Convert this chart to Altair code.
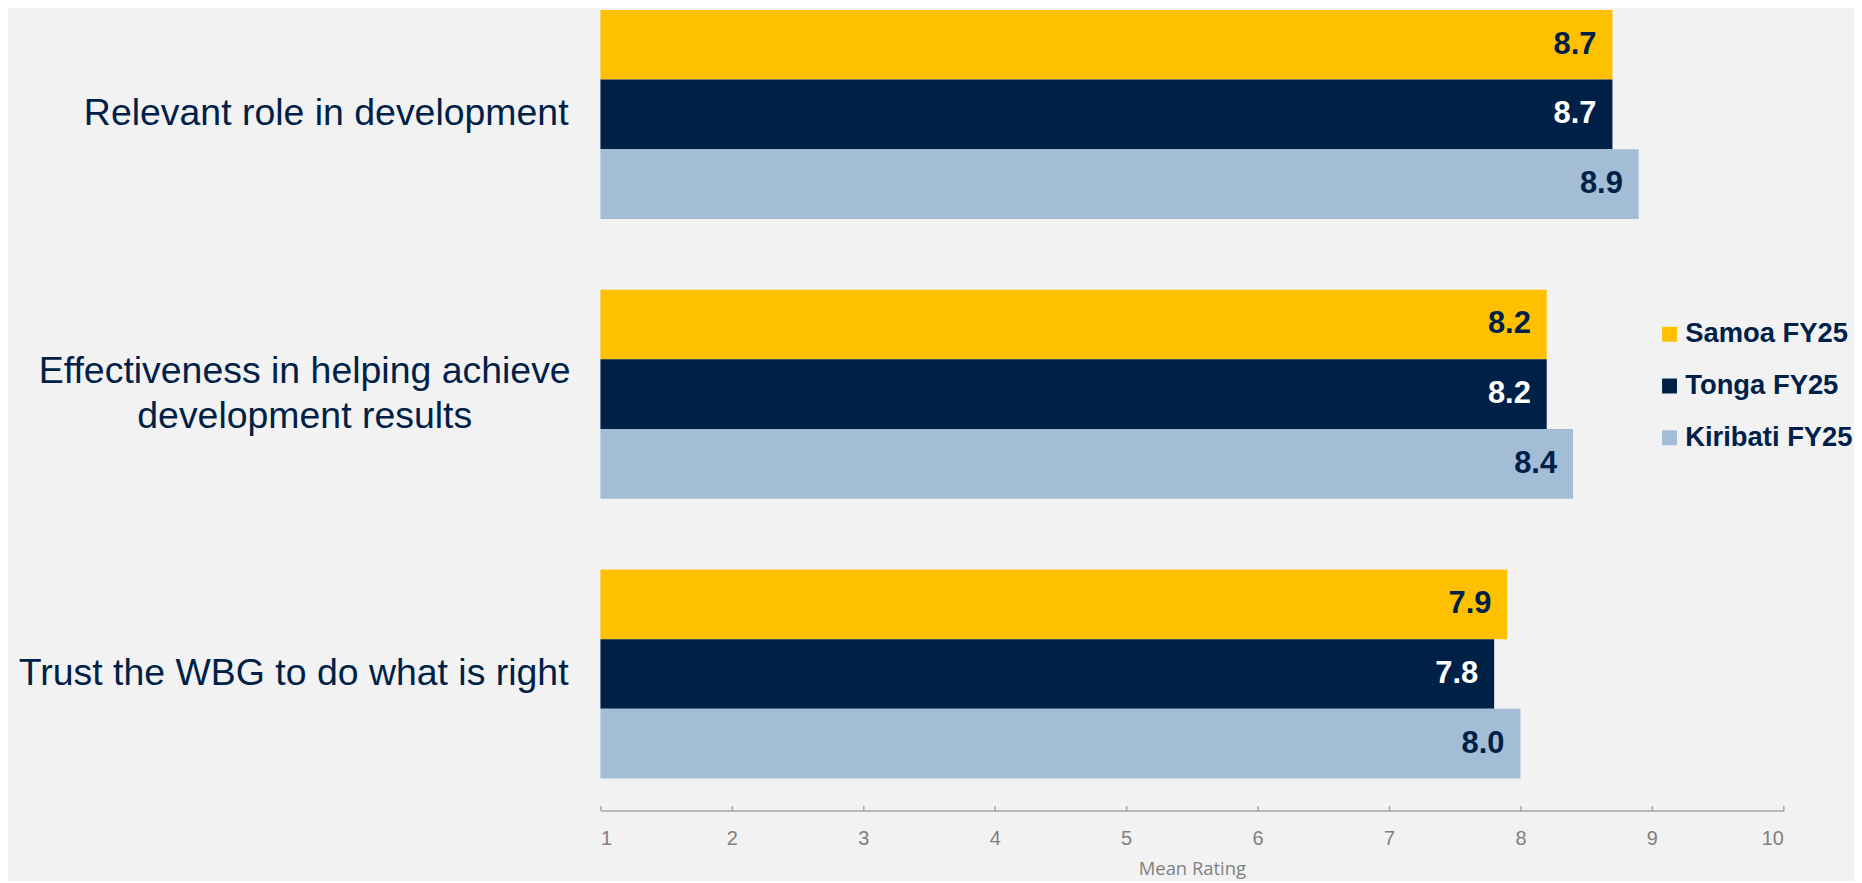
import altair as alt
import pandas as pd

# ---- data ----
categories = [
    "Relevant role in development",
    "Effectiveness in helping achieve development results",
    "Trust the WBG to do what is right",
]
category_lines = [
    ["Relevant role in development"],
    ["Effectiveness in helping achieve", "development results"],
    ["Trust the WBG to do what is right"],
]
series = ["Samoa FY25", "Tonga FY25", "Kiribati FY25"]
samoa = [8.7, 8.2, 7.9]
tonga = [8.7, 8.2, 7.8]
kiribati = [8.9, 8.4, 8.0]
colors = ["#FFC000", "#002147", "#A3BDD6"]
tick_values = [1, 2, 3, 4, 5, 6, 7, 8, 9, 10]
axis_title = "Mean Rating"

NAVY = "#002147"
GREY = "#808080"
FONT = "Liberation Sans"

rows = []
for s, vals in zip(series, [samoa, tonga, kiribati]):
    for c, v in zip(categories, vals):
        rows.append({"category": c, "country": s, "value": v})
df = pd.DataFrame(rows)

lab = pd.DataFrame({
    "category": categories,
    "lines": category_lines,
    "nlines": [len(l) for l in category_lines],
})

x_scale = alt.Scale(domain=[1, 10], nice=False, zero=False)
y_scale = alt.Scale(domain=categories, paddingInner=0.2527, paddingOuter=0)

x_enc = alt.X(
    "value:Q",
    scale=x_scale,
    axis=alt.Axis(
        values=tick_values,
        format="d",
        grid=False,
        offset=32,
        domainColor="#A6A6A6",
        domainWidth=1.5,
        tickColor="#A6A6A6",
        tickWidth=1.5,
        tickSize=alt.ExprRef(expr="-5"),
        labelPadding=23,
        labelFont=FONT,
        labelFontSize=20,
        labelColor=GREY,
        title=axis_title,
        titleFont="Open Sans",
        titleFontSize=18.5,
        titleFontWeight="normal",
        titleColor=GREY,
        titlePadding=11,
    ),
)
y_enc = alt.Y("category:N", sort=categories, scale=y_scale, axis=None)
yoff_enc = alt.YOffset("country:N", sort=series, scale=alt.Scale(domain=series))

bars = alt.Chart(df).mark_bar().encode(
    x=x_enc,
    x2=alt.datum(1),
    y=y_enc,
    yOffset=yoff_enc,
    color=alt.Color(
        "country:N",
        scale=alt.Scale(domain=series, range=colors),
        legend=alt.Legend(
            orient="none",
            legendX=1060,
            legendY=312,
            title=None,
            labelFont=FONT,
            labelFontSize=27.5,
            labelFontWeight="bold",
            labelColor=NAVY,
            symbolType="square",
            symbolSize=225,
            symbolStrokeWidth=0,
            symbolOpacity=1,
            rowPadding=23,
            labelOffset=2,
            labelLimit=400,
        ),
    ),
)

values = alt.Chart(df).mark_text(
    align="right", baseline="middle", dx=-16,
    font=FONT, fontSize=31, fontWeight="bold",
).encode(
    x=alt.X("value:Q", scale=x_scale),
    y=y_enc,
    yOffset=yoff_enc,
    text=alt.Text("value:Q", format=".1f"),
    color=alt.condition(alt.datum.country == "Tonga FY25",
                        alt.value("#FFFFFF"), alt.value(NAVY)),
)

single = alt.Chart(lab).transform_filter(alt.datum.nlines == 1).mark_text(
    align="right", baseline="middle", dx=-32,
    font=FONT, fontSize=37.6, color=NAVY,
).encode(
    x=alt.X(datum=1),
    y=y_enc,
    text="lines:N",
)

multi = alt.Chart(lab).transform_filter(alt.datum.nlines > 1).mark_text(
    align="center", baseline="middle", dx=-297, dy=-22, lineHeight=45,
    font=FONT, fontSize=37.6, color=NAVY,
).encode(
    x=alt.X(datum=1),
    y=y_enc,
    text="lines:N",
)

chart = alt.layer(bars, values, single, multi).properties(
    width=1188,
    height=772,
    background="#F2F2F2",
    autosize=alt.AutoSizeParams(type="none"),
    padding={"left": 595, "top": 0, "right": 71, "bottom": 101},
).configure_view(stroke=None)

chart.save("out.html", embed_options={"renderer": "svg", "actions": False})
